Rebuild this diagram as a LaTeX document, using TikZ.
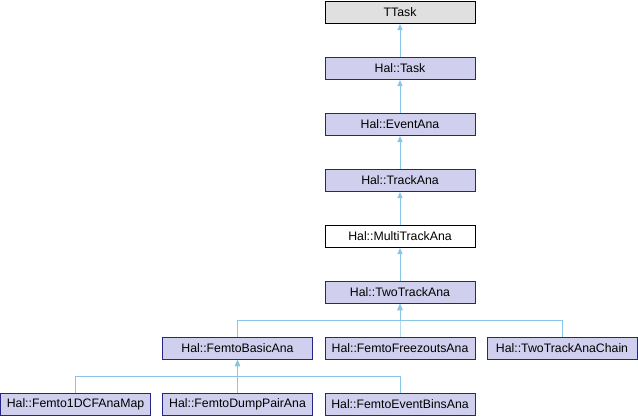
\documentclass[tikz,border=0pt]{standalone}
\usepackage{fontspec}
\setmainfont{Liberation Sans}
\usetikzlibrary{arrows.meta}

\definecolor{halfill}{RGB}{208,208,238}
\definecolor{halline}{RGB}{37,37,134}
\definecolor{extfill}{RGB}{224,224,224}
\definecolor{inherit}{RGB}{135,198,230}

\begin{document}
\begin{tikzpicture}[
        %We set the units and define some styles
        x=1pt, y=-1pt,
        every node/.style={font=\fontsize{12.3}{14}\selectfont, inner sep=0pt,
            minimum width=150pt, minimum height=22pt, line width=1pt},
        class/.style={draw=halline, fill=halfill},
        external/.style={draw=black, fill=extfill},
        plain class/.style={draw=black, fill=white},
        derive/.style={draw=inherit, line width=1pt,
            -{Triangle[width=5pt,length=6pt]}},
    ]
    \useasboundingbox (0,0) rectangle (638,416);

    % The chain of base classes
    \node[external]    (ttask)      at (400,12.5)  {TTask};
    \node[class]       (task)       at (400,68.5)  {Hal::Task};
    \node[class]       (eventana)   at (400,124.5) {Hal::EventAna};
    \node[class]       (trackana)   at (400,180.5) {Hal::TrackAna};
    \node[plain class] (multitrack) at (400,236.5) {Hal::MultiTrackAna};
    \node[class]       (twotrack)   at (400,292.5) {Hal::TwoTrackAna};

    % Classes derived from the two track analysis
    \node[class] (femtobasic)  at (237.5,348.5) {Hal::FemtoBasicAna};
    \node[class] (freezouts)   at (400,348.5)   {Hal::FemtoFreezoutsAna};
    \node[class] (anachain)    at (562,348.5)   {Hal::TwoTrackAnaChain};

    % Classes derived from the basic femto analysis
    \node[class] (cfmap)       at (75.5,404.5)  {Hal::Femto1DCFAnaMap};
    \node[class] (dumppair)    at (237.5,404.5) {Hal::FemtoDumpPairAna};
    \node[class] (eventbins)   at (400,404.5)   {Hal::FemtoEventBinsAna};

    % Bus lines of the fan-out
    \coordinate (bus two) at (400,320.5);
    \coordinate (bus basic) at (237.5,376);

    % inheritance arrows
    \draw[derive] (task) -- (ttask);
    \draw[derive] (eventana) -- (task);
    \draw[derive] (trackana) -- (eventana);
    \draw[derive] (multitrack) -- (trackana);
    \draw[derive] (twotrack) -- (multitrack);
    \draw[derive] (femtobasic.north) |- (bus two) -- (twotrack.south);
    \draw[derive] (freezouts.north) |- (bus two) -- (twotrack.south);
    \draw[derive] (anachain.north) |- (bus two) -- (twotrack.south);
    \draw[derive] (cfmap.north) |- (bus basic) -- (femtobasic.south);
    \draw[derive] (dumppair.north) |- (bus basic) -- (femtobasic.south);
    \draw[derive] (eventbins.north) |- (bus basic) -- (femtobasic.south);
\end{tikzpicture}
\end{document}
